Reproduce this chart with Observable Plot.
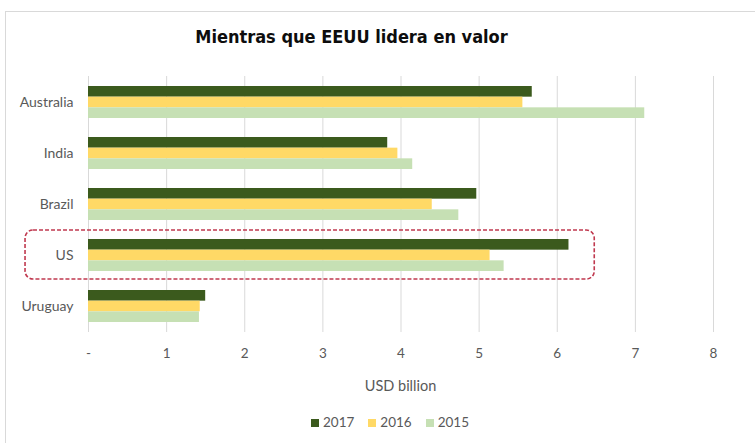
<!DOCTYPE html>
<html>
<head>
<meta charset="utf-8">
<script src="https://cdn.jsdelivr.net/npm/d3@7"></script>
<script src="https://cdn.jsdelivr.net/npm/@observablehq/plot@0.6"></script>
<style>
  html, body { margin: 0; padding: 0; background: #fff; }
  #wrap { position: relative; width: 755px; height: 443px; overflow: hidden; background: #fff; }
  #box { position: absolute; left: 5px; top: 11px; width: 760px; height: 450px; border: 1px solid #d9d9d9; box-sizing: border-box; }
  #title { position: absolute; left: 0; width: 703px; top: 26px; text-align: center;
    font-family: "DejaVu Sans Condensed", "DejaVu Sans", sans-serif; font-stretch: condensed;
    font-weight: bold; font-size: 18px; color: #0d0d0d; }
  #xlabel { position: absolute; left: 88px; width: 625px; top: 377px; text-align: center;
    font-family: Lato, "Open Sans", sans-serif; font-size: 14.5px; color: #595959; }
  #legend { position: absolute; left: 0; width: 780px; top: 414px; text-align: center;
    font-family: Lato, "Open Sans", sans-serif; font-size: 13.5px; color: #595959; }
  #legend span.item { margin: 0 7px; white-space: nowrap; }
  #legend span.sw { display: inline-block; width: 8px; height: 8px; margin-right: 4px; vertical-align: 0px; }
  #chart { position: absolute; left: 0; top: 0; }
</style>
</head>
<body>
<div id="wrap">
  <div id="box"></div>
  <div id="chart"></div>
  <div id="title">Mientras que EEUU lidera en valor</div>
  <div id="xlabel">USD billion</div>
  <div id="legend"></div>
</div>
<script>
const categories = ["Australia", "India", "Brazil", "US", "Uruguay"];
const years = ["2017", "2016", "2015"];
const v2017 = [5.68, 3.83, 4.97, 6.15, 1.50];
const v2016 = [5.56, 3.96, 4.40, 5.14, 1.43];
const v2015 = [7.12, 4.15, 4.74, 5.32, 1.42];
const xTicks = [0, 1, 2, 3, 4, 5, 6, 7, 8];
const colors = { "2017": "#3b5a1d", "2016": "#ffd966", "2015": "#c6e0b4" };
const highlight = [{ country: "US", x1: -0.806, x2: 6.48 }];

const series = { "2017": v2017, "2016": v2016, "2015": v2015 };
const rows = years.map(y => categories.map((c, i) => ({ country: c, year: y, value: series[y][i] })));

const bandH = 32;
const seg = bandH / 3;

const chart = Plot.plot({
  width: 755,
  height: 443,
  marginTop: 76,
  marginBottom: 111,
  marginLeft: 88,
  marginRight: 42,
  style: { fontFamily: "Lato, 'Open Sans', sans-serif", fontSize: "13px", color: "#595959", background: "transparent" },
  x: { domain: [0, 8], label: null },
  y: { domain: categories, paddingInner: 0.375, paddingOuter: 0.1875, label: null },
  marks: [
    Plot.gridX(xTicks, { stroke: "#d9d9d9", strokeOpacity: 1, strokeWidth: 1 }),
    ...years.map((yr, k) => Plot.barX(rows[k], {
      x: "value", y: "country", fill: colors[yr],
      insetTop: seg * k, insetBottom: seg * (2 - k)
    })),
    Plot.barX(highlight, {
      x1: "x1", x2: "x2", y: "country", insetTop: -9, insetBottom: -8,
      rx: 8, fill: "none", stroke: "#c0394f", strokeWidth: 1.6, strokeDasharray: "4,2"
    }),
    Plot.axisX(xTicks, { tickSize: 0, tickPadding: 16, tickFormat: d => d === 0 ? "-" : String(d), fill: "#595959", fontSize: 13.5 }),
    Plot.axisY({ tickSize: 0, tickPadding: 15, fill: "#595959", fontSize: 14 })
  ]
});
document.getElementById("chart").appendChild(chart);

const leg = document.getElementById("legend");
years.forEach(y => {
  const it = document.createElement("span");
  it.className = "item";
  const sw = document.createElement("span");
  sw.className = "sw";
  sw.style.background = colors[y];
  it.appendChild(sw);
  it.appendChild(document.createTextNode(y));
  leg.appendChild(it);
});
</script>
</body>
</html>
